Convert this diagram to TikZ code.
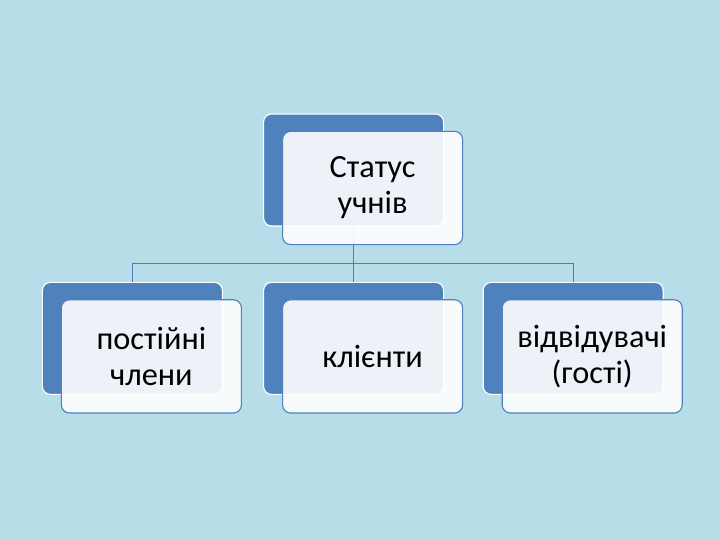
\documentclass[tikz,border=0pt]{standalone}
\usepackage{fontspec}
\setmainfont{Carlito}
\usetikzlibrary{positioning}
\definecolor{pupilBack}{HTML}{B7DDE8}
\definecolor{pupilBlue}{HTML}{4F81BD}
\definecolor{pupilLine}{HTML}{4A7EBB}

\begin{document}
\begin{tikzpicture}[
        backbox/.style={
            fill=pupilBlue,
            draw=white,
            line width=0.8pt,
            rounded corners=0.2cm,
            minimum width=4.5cm,
            minimum height=2.8cm
        },
        frontbox/.style={
            fill=white,
            fill opacity=0.9,
            text opacity=1,
            draw=pupilBlue,
            line width=0.8pt,
            rounded corners=0.2cm,
            minimum width=4.5cm,
            minimum height=2.83cm,
            align=center,
            font=\fontsize{23}{25.5}\selectfont
        },
        link/.style={
            draw=pupilLine,
            line width=0.6pt
        }
    ]

    \fill[pupilBack] (0,0) rectangle (18,13.5);
    \useasboundingbox (0,0) rectangle (18,13.5);

    \node[backbox] (status) at (8.84,9.25) {};
    \node[backbox] (members) at (3.31,5.04) {};
    \node[backbox] (clients) at (8.84,5.04) {};
    \node[backbox] (guests) at (14.33,5.04) {};

    \coordinate (hub) at ([yshift=-0.925cm]status.south);
    \draw[link] (status.south) -- (hub);
    \draw[link] (hub) -| (members.north);
    \draw[link] (hub) -| (clients.north);
    \draw[link] (hub) -| (guests.north);

    \node[frontbox] (statusT) at ([xshift=0.475cm,yshift=-0.45cm]status.center)
        {Статус\\учнів};
    \node[frontbox] (membersT) at ([xshift=0.475cm,yshift=-0.45cm]members.center)
        {постійні\\члени};
    \node[frontbox] (clientsT) at ([xshift=0.475cm,yshift=-0.45cm]clients.center)
        {клієнти};
    \node[frontbox] (guestsT) at ([xshift=0.475cm,yshift=-0.45cm]guests.center)
        {відвідувачі\\(гості)};

\end{tikzpicture}
\end{document}
